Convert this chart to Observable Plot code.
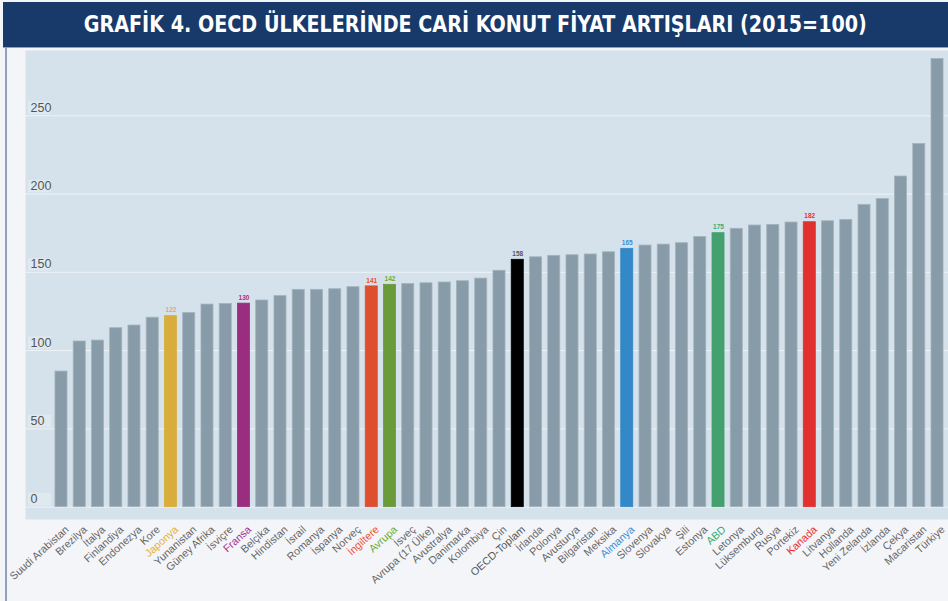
<!DOCTYPE html>
<html>
<head>
<meta charset="utf-8">
<script src="https://cdn.jsdelivr.net/npm/d3@7"></script>
<script src="https://cdn.jsdelivr.net/npm/@observablehq/plot@0.6"></script>
<style>
  html, body { margin: 0; padding: 0; }
  body { width: 948px; height: 601px; background: #f4f5f9; position: relative; overflow: hidden; font-family: "Liberation Sans", Arial, sans-serif; }
  #title { position: absolute; left: 3px; top: 2px; width: 945px; height: 45px; background: #173a6b; color: #fff;
    font-family: "DejaVu Sans Condensed", "Liberation Sans Narrow", sans-serif; font-weight: bold; font-size: 23px;
    line-height: 45px; text-align: center; border-bottom: 1px solid #8ea3bb; }
  #title span { display: inline-block; transform: scaleX(0.925); transform-origin: center; white-space: nowrap; }
  #leftline { position: absolute; left: 5px; top: 48px; width: 2px; height: 553px; background: #8ea3bb; }
  #chart { position: absolute; left: 0; top: 50px; }
</style>
</head>
<body>
<div id="title"><span>GRAFİK 4. OECD ÜLKELERİNDE CARİ KONUT FİYAT ARTIŞLARI (2015=100)</span></div>
<div id="leftline"></div>
<div id="chart"></div>
<script>
const countries = ["Suudi Arabistan","Brezilya","İtalya","Finlandiya","Endonezya","Kore","Japonya","Yunanistan","Güney Afrika","İsviçre","Fransa","Belçika","Hindistan","İsrail","Romanya","İspanya","Norveç","İngiltere","Avrupa","İsveç","Avrupa (17 Ülke)","Avustralya","Danimarka","Kolombiya","Çin","OECD-Toplam","İrlanda","Polonya","Avusturya","Bilgaristan","Meksika","Almanya","Slovenya","Slovakya","Şili","Estonya","ABD","Letonya","Lüksemburg","Rusya","Portekiz","Kanada","Litvanya","Hollanda","Yeni Zelanda","İzlanda","Çekya","Macaristan","Türkiye"];
const values = [86.6,105.8,106.4,114.3,116,121,122,124,129.4,129.8,130,132,134.8,138.8,138.8,139.2,140.5,141,142,142.5,143,143.5,144.3,146,151,158,159.6,160.5,160.9,161.4,162.8,165,167.1,167.7,168.6,172.6,175,177.8,179.9,180.3,181.8,182,182.6,183.5,193.1,196.8,211.2,232,286.3];
const highlighted = ["Japonya","Fransa","İngiltere","Avrupa","OECD-Toplam","Almanya","ABD","Kanada"];
const barColors = ["#d8ad3c","#9b2d81","#dd4f2f","#6a9a3a","#000000","#3388c8","#44a06e","#e03030"];
const labelColors = ["#e3b23a","#a6308e","#e8502c","#6aac3a","#555555","#3a8fd6","#3aab6e","#e53030"];
const yTicks = [0,50,100,150,200,250];

const baseBar = "#879ba8";
const baseLabel = "#666666";
const data = countries.map((c, i) => {
  const h = highlighted.indexOf(c);
  return {country: c, value: values[i], bar: h >= 0 ? barColors[h] : baseBar, label: h >= 0 ? labelColors[h] : baseLabel, hi: h >= 0};
});

const chart = Plot.plot({
  width: 948,
  height: 551,
  marginTop: 0,
  marginBottom: 82,
  marginLeft: 25,
  marginRight: 0,
  style: {background: "transparent", fontFamily: "'Liberation Sans', Arial, sans-serif"},
  x: {domain: countries, range: [51.3, 946.7], paddingInner: 0.34, paddingOuter: 0.2, round: false, axis: null},
  y: {domain: [-7.9, 291.7], axis: null},
  marks: [
    Plot.frame({fill: "#d5e2eb", stroke: null}),
    Plot.ruleY(yTicks, {y: d => d, stroke: "#eef3f7", strokeWidth: 1}),
    Plot.tickY(yTicks, {y: d => d, dy: -8, stroke: "#dfe9f0", strokeWidth: 12.5, insetLeft: 3, insetRight: 897}),
    Plot.text(yTicks, {y: d => d, text: d => String(d), frameAnchor: "left", textAnchor: "start", dx: 5, dy: -8, fill: "#555", fontSize: 12.5}),
    Plot.barY(data, {x: "country", y: "value", fill: d => d.bar, stroke: d => d.hi ? d.bar : "#a3b3be", strokeWidth: 0.8}),
    Plot.text(data.filter(d => d.hi), {x: "country", y: "value", text: d => String(Math.round(d.value)), dy: -6, fill: d => d.label, fontSize: 6.5, fontWeight: "bold"}),
    Plot.text(data, {x: "country", text: "country", frameAnchor: "bottom", textAnchor: "end", rotate: -42, dx: 8, dy: 11, fill: d => d.label, fontSize: 10.7})
  ]
});
document.getElementById("chart").appendChild(chart);
</script>
</body>
</html>
